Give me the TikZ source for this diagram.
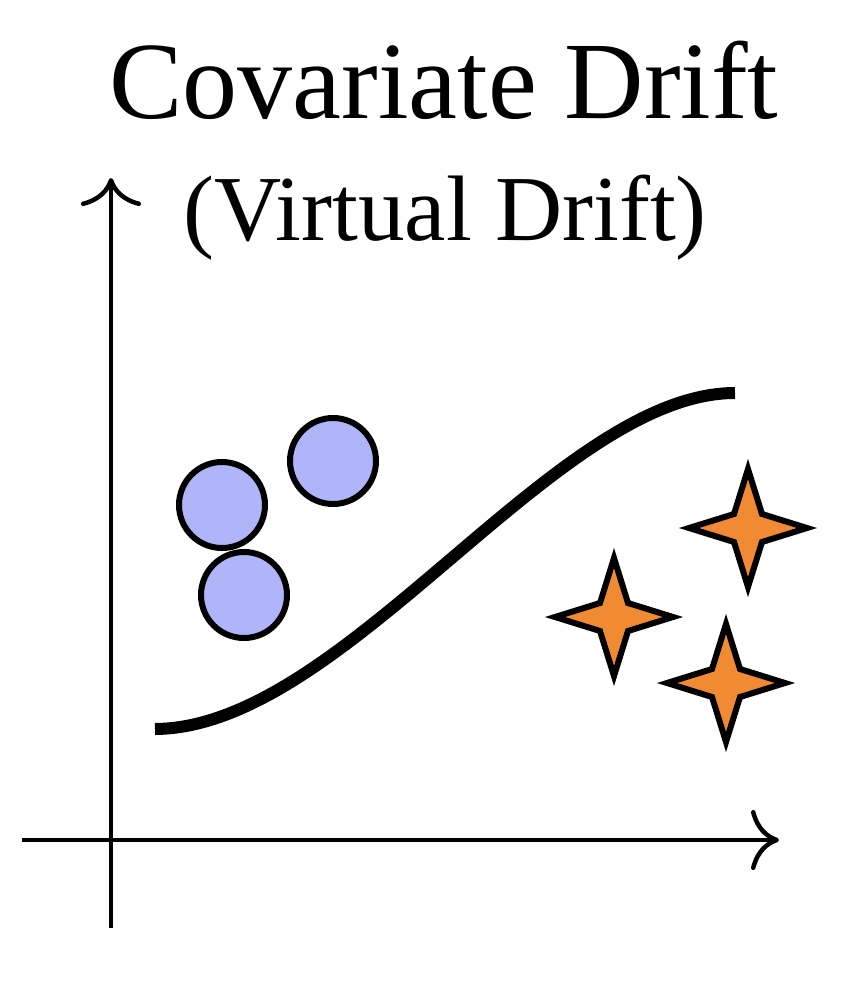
\documentclass[tikz,border=0pt]{standalone}
\usepackage{fontspec}
\setmainfont{Liberation Serif}
\usetikzlibrary{arrows.meta}
\definecolor{dotblue}{HTML}{B0B4F8}
\definecolor{starorange}{HTML}{F08A33}
\begin{document}
\begin{tikzpicture}[x=1pt,y=-1pt,
  axis/.style={line width=4.5pt,-{Computer Modern Rightarrow[length=28pt,width=60pt,line width=4.5pt]}},
  dot/.style={circle,draw=black,line width=6pt,fill=dotblue,minimum size=86pt,inner sep=0pt},
  sparkle/.pic={\draw[line width=6pt,fill=starorange,line join=miter]
     (0,-59) -- (14,-14) -- (59,0) -- (14,14) -- (0,59) -- (-14,14) -- (-59,0) -- (-14,-14) -- cycle;},
  bigtitle/.style={font=\fontsize{110}{120}\selectfont,inner sep=0pt,anchor=base},
  subtitle/.style={font=\fontsize{93}{100}\selectfont,inner sep=0pt,anchor=base}
]
\useasboundingbox (0,0) rectangle (858,986);
% title
\node[bigtitle] (t1) at (444,118) {Covariate Drift};
\node[subtitle] (t2) at (445,240) {(Virtual Drift)};
% axes
\coordinate (yb) at (111,928);
\coordinate (yt) at (111,178);
\coordinate (xl) at (22,840);
\coordinate (xr) at (779,840);
\draw[axis] (yb) -- (yt);
\draw[axis] (xl) -- (xr);
% decision boundary
\coordinate (cs) at (155,729);
\coordinate (ce) at (735,393);
\draw[line width=12pt] (cs) .. controls (345,728) and (555,393) .. (ce);
% circles
\node[dot] (c1) at (222,505) {};
\node[dot] (c2) at (333,461) {};
\node[dot] (c3) at (244,595) {};
% stars
\pic (s1) at (748,528) {sparkle};
\pic (s2) at (614,617) {sparkle};
\pic (s3) at (726,683) {sparkle};
\end{tikzpicture}
\end{document}
